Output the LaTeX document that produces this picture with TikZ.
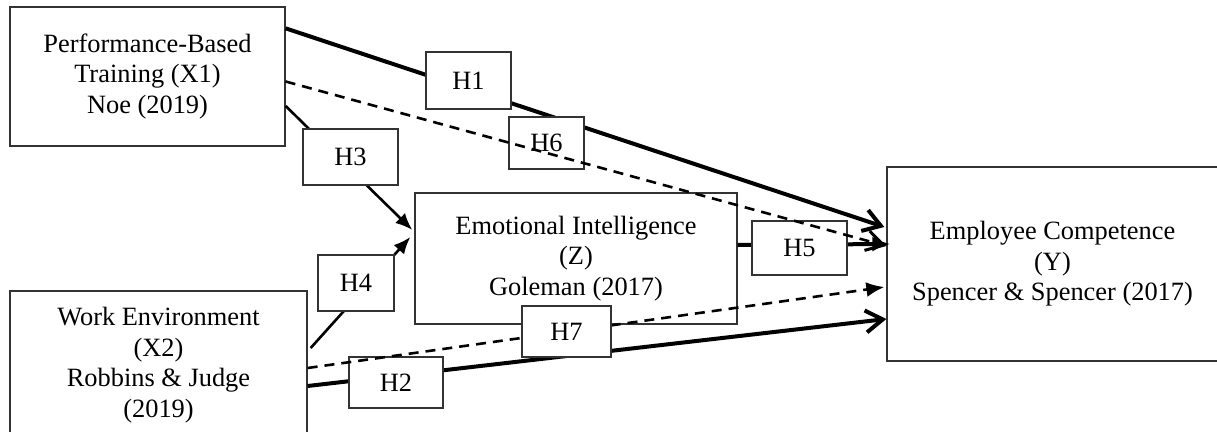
\documentclass[tikz,border=0pt]{standalone}
\usepackage{fontspec}
\setmainfont{Liberation Serif}
\usetikzlibrary{arrows.meta,calc}
\begin{document}
\begin{tikzpicture}[x=1pt,y=-1pt,
  every node/.style={font=\fontsize{26.4}{30.5}\selectfont},
  bigbox/.style={draw=black!80,line width=1.3pt,fill=white,align=center,inner sep=0pt},
  hbox/.style={draw=black!80,line width=1.3pt,fill=white,inner sep=0pt},
  thickline/.style={line width=4pt,-{Straight Barb[length=17pt,width=22pt]}},
  thinarrow/.style={line width=2.6pt,-{Latex[length=17pt,width=14pt]}},
  dashline/.style={line width=2.6pt,dash pattern=on 10pt off 7pt},
  openhead/.style={-{Straight Barb[length=17pt,width=20pt,line width=3pt]}},
  fillhead/.style={-{Latex[length=18pt,width=15pt]}}
]
\useasboundingbox (0,0) rectangle (1217,431);

% main boxes
\node[bigbox,minimum width=275pt,minimum height=139pt] (X1) at (147.5,76.5)
  {Performance-Based\\Training (X1)\\Noe (2019)};
\node[bigbox,minimum width=297pt,minimum height=148pt] (X2) at (158.5,365)
  {Work Environment\\(X2)\\Robbins \& Judge\\(2019)};
\node[bigbox,minimum width=322pt,minimum height=131pt] (Z) at (576,258.5)
  {Emotional Intelligence\\(Z)\\Goleman (2017)};
\node[bigbox,minimum width=331pt,minimum height=194pt] (Y) at (1052.5,264)
  {Employee Competence\\(Y)\\Spencer \& Spencer (2017)};

% connector end points
\coordinate (x1a) at ([yshift=-22pt]X1.north east);
\coordinate (x1b) at ([yshift=-5pt]X1.east);
\coordinate (x1c) at ([yshift=-29.5pt]X1.east);
\coordinate (x2a) at ([xshift=3pt,yshift=17pt]X2.east);
\coordinate (x2b) at ([yshift=-3pt]X2.east);
\coordinate (x2c) at ([yshift=-21pt]X2.east);
\coordinate (za) at ([xshift=-2pt,yshift=28.5pt]Z.west);
\coordinate (zb) at ([xshift=-4pt,yshift=21.5pt]Z.west);
\coordinate (zc) at ([yshift=13.5pt]Z.east);
\coordinate (ya) at ([xshift=-2pt,yshift=37pt]Y.west);
\coordinate (yb) at ([yshift=18pt]Y.west);
\coordinate (yc) at ([xshift=4pt,yshift=20pt]Y.west);
\coordinate (yd) at ([xshift=-2pt,yshift=-23pt]Y.west);
\coordinate (ye) at ([yshift=-55pt]Y.west);

% solid connectors
\draw[thickline] (x1a) -- (ya);
\draw[thickline] (x2c) -- (ye);
\draw[thinarrow] (x1c) -- (za);
\draw[thinarrow] (x2a) -- (zb);
\draw[line width=4pt,fillhead] (zc) -- (yc);

% hypothesis labels
\node[hbox,minimum width=85pt,minimum height=57pt] (H1) at (468.5,80.5) {H1};
\node[hbox,minimum width=94pt,minimum height=51pt] (H2) at (396,382.5) {H2};
\node[hbox,minimum width=95pt,minimum height=56pt] (H3) at (350.5,157) {H3};
\node[hbox,minimum width=76pt,minimum height=56pt] (H4) at (356,283) {H4};
\node[hbox,minimum width=95pt,minimum height=54pt] (H5) at (799.5,248) {H5};
\node[hbox,minimum width=75pt,minimum height=52pt] (H6) at (546.5,143) {H6};

% dashed connectors
\draw[dashline,openhead] (x1b) -- (yb);
\draw[dashline,fillhead] (x2b) -- (yd);

\node[hbox,minimum width=89pt,minimum height=51pt] (H7) at (566.5,331.5) {H7};
\end{tikzpicture}
\end{document}
